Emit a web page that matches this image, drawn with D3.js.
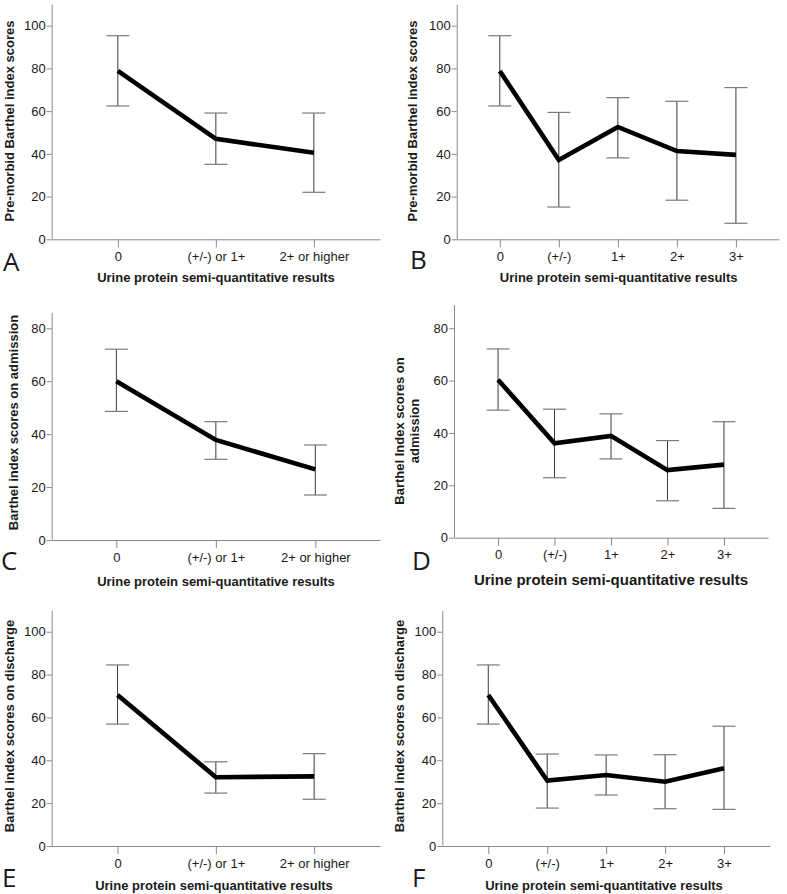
<!DOCTYPE html>
<html>
<head>
<meta charset="utf-8">
<script src="https://cdn.jsdelivr.net/npm/d3@7/dist/d3.min.js"></script>
<style>
body { margin: 0; background: #fff; }
svg text { font-family: "Liberation Sans", Arial, sans-serif; fill: #1a1a1a; }
</style>
</head>
<body>
<div class="figure"></div>
<script>
// categories
const catsThree = ["0", "(+/-) or 1+", "2+ or higher"];
const catsFive = ["0", "(+/-)", "1+", "2+", "3+"];

// tick values
const ticksHundred = [0, 20, 40, 60, 80, 100];
const ticksEighty = [0, 20, 40, 60, 80];

// pre-morbid Barthel index (mean, lower and upper error bar)
const premorbidThreeMean = [78.8, 47.0, 40.5];
const premorbidThreeLow = [62.4, 35.1, 22.0];
const premorbidThreeHigh = [95.3, 59.1, 59.1];
const premorbidFiveMean = [78.8, 37.1, 52.6, 41.3, 39.5];
const premorbidFiveLow = [62.4, 15.1, 38.1, 18.3, 7.5];
const premorbidFiveHigh = [95.3, 59.4, 66.3, 64.6, 71.0];

// on admission
const admissionThreeMean = [60.0, 37.8, 26.7];
const admissionThreeLow = [48.6, 30.5, 17.0];
const admissionThreeHigh = [72.1, 44.7, 35.9];
const admissionFiveMean = [60.3, 36.1, 38.9, 25.8, 27.9];
const admissionFiveLow = [48.7, 22.9, 30.1, 14.1, 11.2];
const admissionFiveHigh = [72.1, 49.1, 47.3, 37.1, 44.3];

// on discharge
const dischargeThreeMean = [70.5, 32.1, 32.5];
const dischargeThreeLow = [56.9, 24.7, 21.8];
const dischargeThreeHigh = [84.5, 39.3, 43.1];
const dischargeFiveMean = [70.5, 30.5, 33.1, 30.0, 36.3];
const dischargeFiveLow = [56.9, 17.7, 23.8, 17.4, 17.1];
const dischargeFiveHigh = [84.5, 42.9, 42.5, 42.6, 55.9];

const xTitle = "Urine protein semi-quantitative results";

const panels = [
    { letter: "A", cats: catsThree, mean: premorbidThreeMean, low: premorbidThreeLow, high: premorbidThreeHigh,
      ticks: ticksHundred, yTitle: ["Pre-morbid Barthel index scores"],
      x0: 51.7, x1: 380, pad: 0.675, yBase: 239.3, yTop: 4.3, yMax: 110,
      yTitleX: 9.5, yTitleY: 121, xTitleX: 216, xTitleY: 281.7, xTitleSize: 13, letterX: 3, letterY: 271 },
    { letter: "B", cats: catsFive, mean: premorbidFiveMean, low: premorbidFiveLow, high: premorbidFiveHigh,
      ticks: ticksHundred, yTitle: ["Pre-morbid Barthel index scores"],
      x0: 456.7, x1: 779, pad: 0.73, yBase: 239.3, yTop: 4.3, yMax: 110,
      yTitleX: 412.7, yTitleY: 121, xTitleX: 618.7, xTitleY: 281.7, xTitleSize: 13, letterX: 410, letterY: 269 },
    { letter: "C", cats: catsThree, mean: admissionThreeMean, low: admissionThreeLow, high: admissionThreeHigh,
      ticks: ticksEighty, yTitle: ["Barthel index scores on admission"],
      x0: 51.7, x1: 380, pad: 0.65, yBase: 540, yTop: 312.4, yMax: 86,
      yTitleX: 13.3, yTitleY: 422.5, xTitleX: 216, xTitleY: 586, xTitleSize: 13, letterX: 1, letterY: 570 },
    { letter: "D", cats: catsFive, mean: admissionFiveMean, low: admissionFiveLow, high: admissionFiveHigh,
      ticks: ticksEighty, yTitle: ["Barthel Index scores on", "admission"],
      x0: 454, x1: 768, pad: 0.78, yBase: 537.7, yTop: 304.7, yMax: 89,
      yTitleX: 407, yTitleY: 431, xTitleX: 611, xTitleY: 585, xTitleSize: 15, letterX: 412, letterY: 570 },
    { letter: "E", cats: catsThree, mean: dischargeThreeMean, low: dischargeThreeLow, high: dischargeThreeHigh,
      ticks: ticksHundred, yTitle: ["Barthel index scores on discharge"],
      x0: 51.7, x1: 380, pad: 0.67, yBase: 846, yTop: 610.3, yMax: 110,
      yTitleX: 9.5, yTitleY: 726, xTitleX: 214, xTitleY: 890, xTitleSize: 13, letterX: 2, letterY: 887 },
    { letter: "F", cats: catsFive, mean: dischargeFiveMean, low: dischargeFiveLow, high: dischargeFiveHigh,
      ticks: ticksHundred, yTitle: ["Barthel index scores on discharge"],
      x0: 442.3, x1: 770, pad: 0.78, yBase: 846, yTop: 610.3, yMax: 110,
      yTitleX: 399.3, yTitleY: 726, xTitleX: 604, xTitleY: 890, xTitleSize: 13, letterX: 412, letterY: 887 }
];

const svg = d3.select(".figure")
    .append("svg")
    .attr("width", 787)
    .attr("height", 894);

panels.forEach((p) => {
    const g = svg.append("g");

    const x = d3.scalePoint()
        .domain(p.cats)
        .range([p.x0, p.x1])
        .padding(p.pad);
    const y = d3.scaleLinear()
        .domain([0, p.yMax])
        .range([p.yBase, p.yTop]);

    const yAxis = d3.axisLeft(y)
        .tickValues(p.ticks)
        .tickFormat(d3.format("d"))
        .tickSize(5)
        .tickSizeOuter(0)
        .tickPadding(1);
    const xAxis = d3.axisBottom(x)
        .tickSize(8)
        .tickSizeOuter(0)
        .tickPadding(4.3);

    const ya = g.append("g")
        .attr("transform", "translate(" + p.x0 + ",0)")
        .call(yAxis);
    const xa = g.append("g")
        .attr("transform", "translate(0," + p.yBase + ")")
        .call(xAxis);
    [ya, xa].forEach((a) => {
        a.select(".domain").attr("stroke", "#8a8a8a");
        a.selectAll(".tick line").attr("stroke", "#8a8a8a");
        a.selectAll(".tick text")
            .style("font-size", "13px")
            .attr("fill", "#1a1a1a");
    });

    // error bars
    const rows = p.cats.map((c, i) => ({ cat: c, mean: p.mean[i], low: p.low[i], high: p.high[i] }));
    const bars = g.selectAll(".err")
        .data(rows)
        .enter()
        .append("g")
        .attr("class", "err");
    bars.append("line")
        .attr("x1", (d) => x(d.cat))
        .attr("x2", (d) => x(d.cat))
        .attr("y1", (d) => y(d.low))
        .attr("y2", (d) => y(d.high))
        .attr("stroke", "#3a3a3a")
        .attr("stroke-width", 1);
    ["low", "high"].forEach((k) => {
        bars.append("line")
            .attr("x1", (d) => x(d.cat) - 11.5)
            .attr("x2", (d) => x(d.cat) + 11.5)
            .attr("y1", (d) => y(d[k]))
            .attr("y2", (d) => y(d[k]))
            .attr("stroke", "#7a7a7a")
            .attr("stroke-width", 1.2);
    });

    // mean line
    const line = d3.line()
        .x((d) => x(d.cat))
        .y((d) => y(d.mean));
    g.append("path")
        .datum(rows)
        .attr("d", line)
        .attr("fill", "none")
        .attr("stroke", "#000")
        .attr("stroke-width", 4.6);

    // y title
    const yt = g.append("text")
        .attr("text-anchor", "middle")
        .attr("transform", "translate(" + p.yTitleX + "," + p.yTitleY + ") rotate(-90)")
        .style("font-size", "13px")
        .style("font-weight", "bold");
    const n = p.yTitle.length;
    p.yTitle.forEach((t, i) => {
        yt.append("tspan")
            .attr("x", 0)
            .attr("y", (i - (n - 1) / 2) * 14.5)
            .attr("dy", "0.36em")
            .text(t);
    });

    // x title
    g.append("text")
        .attr("text-anchor", "middle")
        .attr("x", p.xTitleX)
        .attr("y", p.xTitleY)
        .style("font-size", p.xTitleSize + "px")
        .style("font-weight", "bold")
        .text(xTitle);

    // panel letter
    g.append("text")
        .attr("x", p.letterX)
        .attr("y", p.letterY)
        .style("font-family", "'Open Sans', 'Noto Sans', sans-serif")
        .style("font-size", "26px")
        .text(p.letter);
});
</script>
</body>
</html>
